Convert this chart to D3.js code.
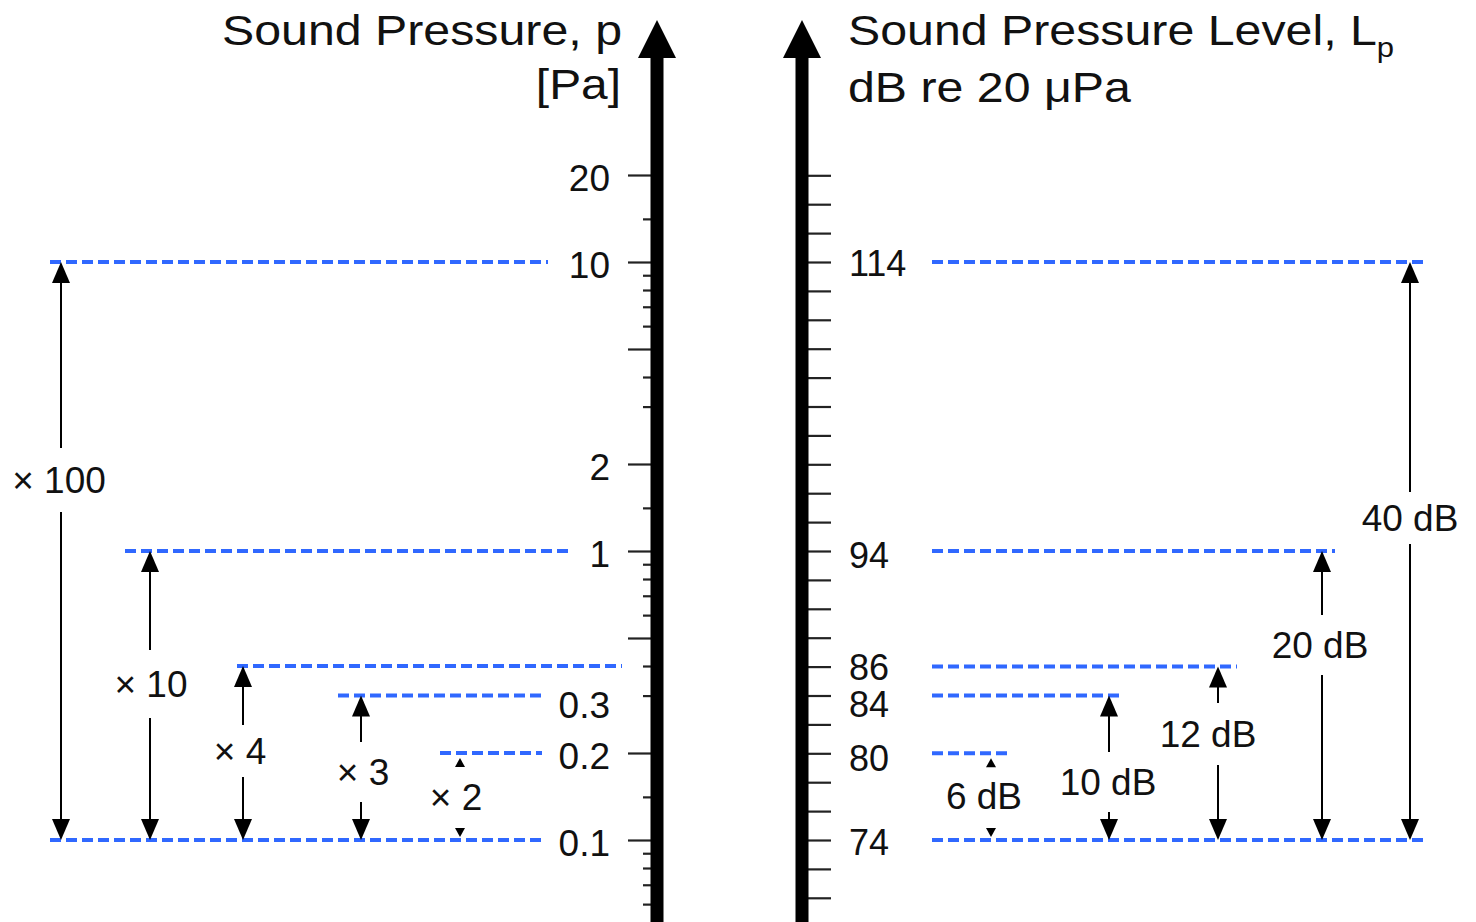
<!DOCTYPE html>
<html>
<head>
<meta charset="utf-8">
<script src="https://cdnjs.cloudflare.com/ajax/libs/d3/7.8.5/d3.min.js"></script>
<style>
  body { margin: 0; background: #fff; }
  svg { display: block; font-family: "Liberation Sans", Arial, sans-serif; }
</style>
</head>
<body>
<div id="chart"></div>
<script>
// left side: sound pressure in Pa (log axis)
const pressureLines = [10, 1, 0.4, 0.316, 0.2, 0.1]
const pressureLabels = [20, 10, 2, 1, 0.3, 0.2, 0.1]
const pressureMajor = [0.05, 0.1, 0.2, 0.5, 1, 2, 5, 10, 20]
const pressureMinor = [0.06, 0.07, 0.08, 0.09, 0.141, 0.316, 0.4, 0.6, 0.7, 0.8, 0.9, 1.41, 3.16, 4, 6, 7, 8, 9, 14.1]
const pressureBase = 0.1
const ratioTop = [10, 1, 0.4, 0.316, 0.2]
const ratioText = ["\u00d7 100", "\u00d7 10", "\u00d7 4", "\u00d7 3", "\u00d7 2"]

// right side: sound pressure level in dB re 20 uPa
const levelLines = [114, 94, 86, 84, 80, 74]
const levelLabels = [114, 94, 86, 84, 80, 74]
const levelTicks = [68, 70, 72, 74, 76, 78, 80, 82, 84, 86, 88, 90, 92, 94, 96, 98, 100, 102, 104, 106, 108, 110, 112, 114, 116, 118, 120]
const levelBase = 74
const dbTop = [114, 94, 86, 84, 80]
const dbText = ["40 dB", "20 dB", "12 dB", "10 dB", "6 dB"]

const width = 1476, height = 922
const blue = "#3068ff"

const svg = d3.select("#chart").append("svg")
    .attr("width", width).attr("height", height)

const yP = d3.scaleLog().domain([0.1, 10]).range([840, 262])
const yL = d3.scaleLinear().domain([74, 114]).range([840, 262])

const leftAxisX = 657, rightAxisX = 802

// layout bits (x extents of dashed lines, arrow + label spots)
const leftLineX = [[50, 548], [125, 572], [237, 622], [338, 542], [440, 542], [50, 542]]
const rightLineX = [[932, 1425], [932, 1335], [932, 1237], [932, 1122], [932, 1007], [932, 1425]]
const leftArrow = [
    {x: 61, lx: 59, ly: 480, gap: 32},
    {x: 150, lx: 151, ly: 684, gap: 34},
    {x: 243, lx: 240, ly: 751, gap: 26},
    {x: 361, lx: 363, ly: 772, gap: 30},
    {x: 460, lx: 456, ly: 797, gap: 0, small: true}
]
const rightArrow = [
    {x: 1410, lx: 1410, ly: 518, gap: 26},
    {x: 1322, lx: 1320, ly: 645, gap: 30},
    {x: 1218, lx: 1208, ly: 734, gap: 31},
    {x: 1109, lx: 1108, ly: 782, gap: 30},
    {x: 991, lx: 984, ly: 796, gap: 0, small: true}
]

// dashed reference lines
svg.append("g").selectAll("line")
    .data(pressureLines)
    .join("line")
    .attr("x1", (d, i) => leftLineX[i][0])
    .attr("x2", (d, i) => leftLineX[i][1])
    .attr("y1", d => yP(d)).attr("y2", d => yP(d))
    .attr("stroke", blue).attr("stroke-width", 4)
    .attr("stroke-dasharray", "11,5")

svg.append("g").selectAll("line")
    .data(levelLines)
    .join("line")
    .attr("x1", (d, i) => rightLineX[i][0])
    .attr("x2", (d, i) => rightLineX[i][1])
    .attr("y1", d => yL(d)).attr("y2", d => yL(d))
    .attr("stroke", blue).attr("stroke-width", 4)
    .attr("stroke-dasharray", "11,5")

// ticks through d3 axes
function styleAxis(g) {
    g.select(".domain").remove()
    g.selectAll(".tick line").attr("stroke", "#222").attr("stroke-width", 2.2)
    g.selectAll(".tick text").remove()
}
svg.append("g").attr("transform", "translate(651,0)")
    .call(d3.axisLeft(yP).tickValues(pressureMajor).tickSize(23).tickFormat(""))
    .call(styleAxis)
svg.append("g").attr("transform", "translate(651,0)")
    .call(d3.axisLeft(yP).tickValues(pressureMinor).tickSize(8).tickFormat(""))
    .call(styleAxis)
svg.append("g").attr("transform", "translate(807,0)")
    .call(d3.axisRight(yL).tickValues(levelTicks).tickSize(24).tickFormat(""))
    .call(styleAxis)

// thick axis lines with arrow heads
function bigAxis(x) {
    svg.append("rect").attr("x", x - 6.5).attr("y", 55).attr("width", 13).attr("height", height - 55).attr("fill", "#000")
    svg.append("path").attr("d", `M${x},20 L${x - 19},58 L${x + 19},58 Z`).attr("fill", "#000")
}
bigAxis(leftAxisX)
bigAxis(rightAxisX)

// tick labels
svg.append("g").selectAll("text")
    .data(pressureLabels)
    .join("text")
    .attr("x", 610)
    .attr("y", d => yP(d) + 3)
    .attr("dy", "0.36em")
    .attr("text-anchor", "end")
    .attr("font-size", 37)
    .attr("fill", "#111")
    .text(d => d)

const levelNudge = [1, 4, 0, 9, 5, 2]
svg.append("g").selectAll("text")
    .data(levelLabels)
    .join("text")
    .attr("x", 849)
    .attr("y", (d, i) => yL(d) + levelNudge[i])
    .attr("dy", "0.36em")
    .attr("font-size", 36)
    .attr("fill", "#111")
    .text(d => d)

// double arrows
function drawArrow(x, yTop, yBot, a, label) {
    const g = svg.append("g")
    const hh = a.small ? 9 : 21, hw = a.small ? 5 : 9
    if (a.small) { yTop += 5; yBot -= 3 }
    if (!a.small) {
        g.append("line").attr("x1", x).attr("x2", x).attr("y1", yTop + hh - 2).attr("y2", a.ly - a.gap)
            .attr("stroke", "#000").attr("stroke-width", 2)
        g.append("line").attr("x1", x).attr("x2", x).attr("y1", a.ly + a.gap).attr("y2", yBot - hh + 2)
            .attr("stroke", "#000").attr("stroke-width", 2)
    }
    g.append("path").attr("d", `M${x},${yTop} L${x - hw},${yTop + hh} L${x + hw},${yTop + hh} Z`).attr("fill", "#000")
    g.append("path").attr("d", `M${x},${yBot} L${x - hw},${yBot - hh} L${x + hw},${yBot - hh} Z`).attr("fill", "#000")
    g.append("text").attr("x", a.lx).attr("y", a.ly).attr("dy", "0.36em")
        .attr("text-anchor", "middle").attr("font-size", 37).attr("fill", "#111")
        .text(label)
}
ratioTop.forEach((v, i) => drawArrow(leftArrow[i].x, yP(v), yP(pressureBase), leftArrow[i], ratioText[i]))
dbTop.forEach((v, i) => drawArrow(rightArrow[i].x, yL(v), yL(levelBase), rightArrow[i], dbText[i]))

// axis titles
svg.append("text").attr("transform", "translate(622,45) scale(1.15,1)")
    .attr("text-anchor", "end").attr("font-size", 42).attr("fill", "#111")
    .text("Sound Pressure, p")
svg.append("text").attr("transform", "translate(621,99) scale(1.14,1)")
    .attr("text-anchor", "end").attr("font-size", 42).attr("fill", "#111")
    .text("[Pa]")
const t1 = svg.append("text").attr("transform", "translate(848,45) scale(1.15,1)")
    .attr("font-size", 42).attr("fill", "#111")
t1.append("tspan").text("Sound Pressure Level, L")
t1.append("tspan").attr("font-size", 27).attr("dy", 12).text("p")
svg.append("text").attr("transform", "translate(848,102) scale(1.15,1)")
    .attr("font-size", 42).attr("fill", "#111")
    .text("dB re 20 \u03bcPa")
</script>
</body>
</html>
